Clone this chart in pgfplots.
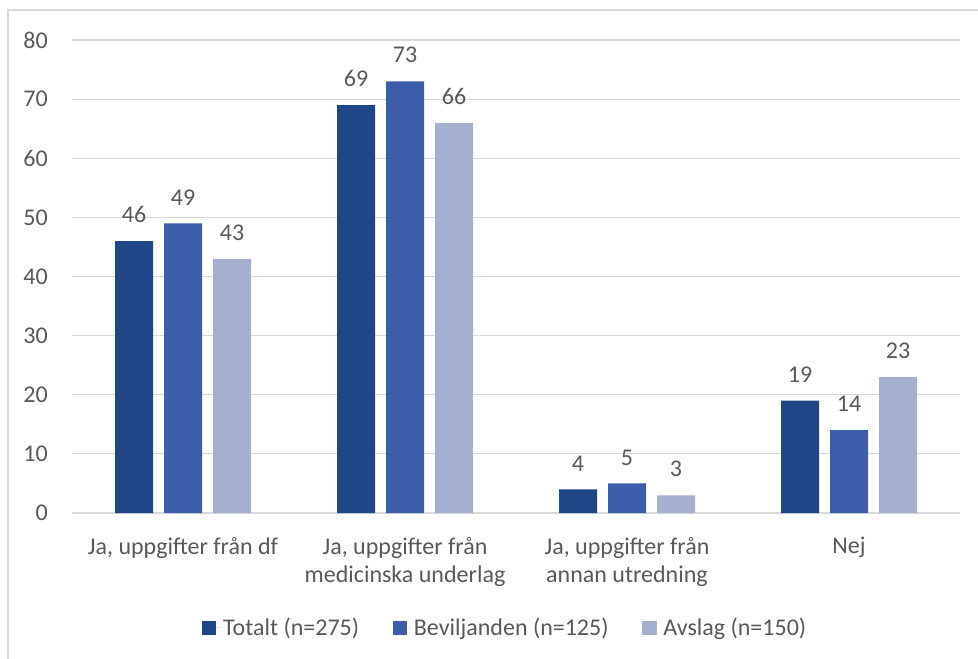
\documentclass[border=0pt]{standalone}
\usepackage{fontspec}
\setmainfont{Carlito}
\usepackage{pgfplots}
\pgfplotsset{compat=1.18}
\definecolor{cTot}{HTML}{1F4788}
\definecolor{cBev}{HTML}{3C5DAA}
\definecolor{cAvs}{HTML}{A5AFCF}
\definecolor{txt}{HTML}{595959}
\definecolor{grd}{HTML}{D9D9D9}
\newcommand{\chartfont}{\fontsize{18}{21}\selectfont}
\begin{document}
\begin{tikzpicture}[font=\chartfont]
% page area and chart frame
\path[use as bounding box] (0pt,0pt) rectangle (733.5pt,-494.25pt);
\draw[grd, line width=1.1pt] (6pt,-520pt) -- (6pt,-7.5pt) -- (760pt,-7.5pt);
\begin{axis}[
  at={(54pt,-384.75pt)}, anchor=south west,
  scale only axis, width=666pt, height=354.75pt,
  ybar=8.25pt, bar width=28.5pt,
  ymin=0, ymax=80, ytick={0,10,...,80},
  xmin=-0.5, xmax=3.5, xtick={0,1,2,3},
  xticklabels={{Ja, uppgifter från df},{Ja, uppgifter från\\medicinska underlag},{Ja, uppgifter från\\annan utredning},{Nej}},
  axis line style={draw=none},
  major tick length=0pt,
  ymajorgrids, grid style={grd, line width=0.9pt},
  tick label style={font=\chartfont, text=txt},
  /pgf/number format/assume math mode=true,
  xticklabel style={align=center, anchor=north, inner sep=0pt, yshift=-18pt},
  yticklabel style={anchor=east, inner sep=0pt, xshift=-18pt},
  nodes near coords,
  every node near coord/.append style={font=\chartfont, text=txt, anchor=south, inner sep=0pt, yshift=13.5pt},
  legend columns=3,
  legend style={draw=none, at={(0.488,-0.243)}, anchor=center, font=\chartfont, text=txt,
    /tikz/every even column/.append style={column sep=23pt},
    cells={anchor=west}},
  legend image code/.code={\fill[#1] (0pt,-5.5pt) rectangle (11pt,5.5pt);
    \path (0pt,0pt) -- (14pt,0pt);},
]
\addplot[fill=cTot, draw=none] coordinates {(0,46) (1,69) (2,4) (3,19)};
\addplot[fill=cBev, draw=none] coordinates {(0,49) (1,73) (2,5) (3,14)};
\addplot[fill=cAvs, draw=none] coordinates {(0,43) (1,66) (2,3) (3,23)};
\legend{Totalt (n=275), Beviljanden (n=125), Avslag (n=150)}
\end{axis}
\end{tikzpicture}
\end{document}
